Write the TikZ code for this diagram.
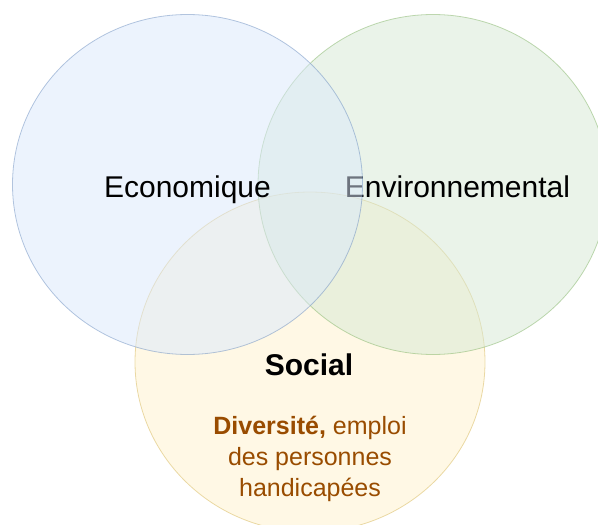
\documentclass[tikz,border=0pt]{standalone}
\usepackage{fontspec}
\setmainfont{Liberation Sans}
\definecolor{ecofill}{HTML}{DAE8FC}
\definecolor{ecoline}{HTML}{6C8EBF}
\definecolor{envfill}{HTML}{D5E8D4}
\definecolor{envline}{HTML}{82B366}
\definecolor{socfill}{HTML}{FFF2CC}
\definecolor{socline}{HTML}{D6B656}
\definecolor{brun}{HTML}{994C00}
\tikzset{
  cercle/.style={opacity=0.5, line width=0.8pt},
  titre/.style={font=\fontsize{30}{36}\selectfont, anchor=base},
  detail/.style={font=\fontsize{25}{31}\selectfont, text=brun, align=center, anchor=base}
}
\begin{document}
\begin{tikzpicture}[x=1pt,y=-1pt]
\useasboundingbox (0,0) rectangle (598,525);
\clip (0,0) rectangle (598,525);
% cercle social et ses textes
\draw[cercle, fill=socfill, draw=socline] (310,362) ellipse [x radius=175pt, y radius=170pt];
\node[titre, font=\fontsize{30}{36}\selectfont\bfseries] (soc) at (309,375) {Social};
\node[detail] (div) at (310,496) {\textbf{Diversité,} emploi\\des personnes\\handicapées};
% cercle environnemental
\draw[cercle, fill=envfill, draw=envline] (433,184.5) ellipse [x radius=175pt, y radius=170pt];
\node[titre] (env) at (457.5,197) {Environnemental};
% cercle economique
\draw[cercle, fill=ecofill, draw=ecoline] (187.5,184.5) ellipse [x radius=175pt, y radius=170pt];
\node[titre] (eco) at (187.5,197) {Economique};
\end{tikzpicture}
\end{document}
